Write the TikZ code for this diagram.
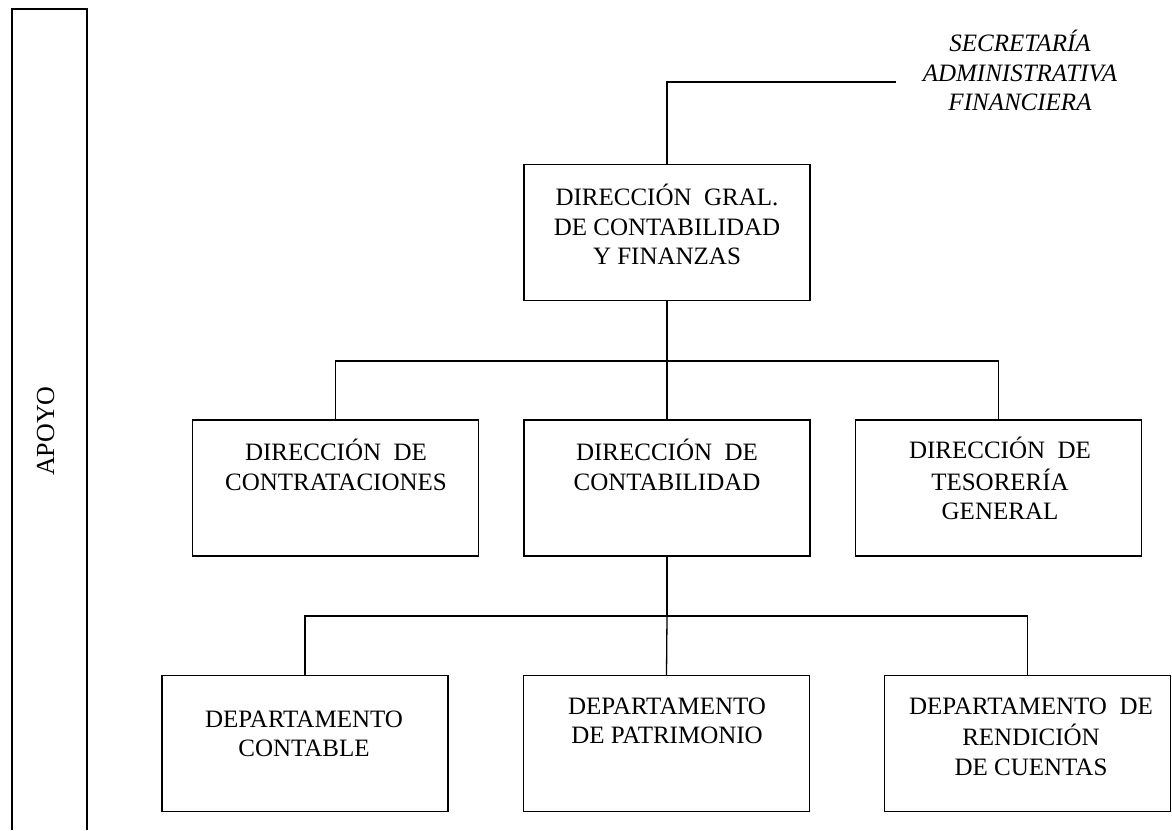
\documentclass[tikz,border=0pt]{standalone}
\usepackage{fontspec}
\setmainfont{Liberation Serif}
\begin{document}
\begin{tikzpicture}[x=1pt,y=-1pt,
  unitbox/.style={draw=black, line width=1.4pt, rectangle, inner sep=0pt,
    minimum width=286pt, minimum height=136pt},
  unittext/.style={align=center, inner sep=0pt, font=\fontsize{25}{29.5}\selectfont},
  link/.style={draw=black, line width=1.3pt}]
\useasboundingbox (0,0) rectangle (1172,830);

% side band
\draw[line width=1.5pt] (12,830) -- (12,9) -- (87,9) -- (87,830);
\node[unittext, font=\fontsize{26}{30}\selectfont, rotate=90] (apoyo) at (48,431) {APOYO\strut};

% boxes
\node[unitbox] (gral) at (667,232.5) {};
\node[unitbox] (dcon) at (335.5,488) {};
\node[unitbox] (dcnt) at (667,488) {};
\node[unitbox] (dtes) at (998.5,488) {};
\node[unitbox] (pcon) at (305,743.5) {};
\node[unitbox] (ppat) at (666.5,743.5) {};
\node[unitbox] (pren) at (1027.5,743.5) {};

% labels
\node[unittext, font=\fontsize{25}{29.5}\selectfont\itshape] (sec) at (1020,75)
  {SECRETARÍA\strut\\ADMINISTRATIVA\strut\\FINANCIERA\strut};
\node[unittext] (tgral) at (667,229) {DIRECCIÓN\ \ GRAL.\strut\\DE CONTABILIDAD\strut\\Y FINANZAS\strut};
\node[unittext] (tdcon) at (336,469) {DIRECCIÓN\ \ DE\strut\\CONTRATACIONES\strut};
\node[unittext] (tdcnt) at (667,469) {DIRECCIÓN\ \ DE\strut\\CONTABILIDAD\strut};
\node[unittext] (tdtes) at (1000,483) {DIRECCIÓN\ \ DE\strut\\TESORERÍA\strut\\GENERAL\strut};
\node[unittext] (tpcon) at (304,736) {DEPARTAMENTO\strut\\CONTABLE\strut};
\node[unittext] (tppat) at (667,723) {DEPARTAMENTO\strut\\DE PATRIMONIO\strut};
\node[unittext] (tpren) at (1031,739) {DEPARTAMENTO\ \ DE\strut\\RENDICIÓN\strut\\DE CUENTAS\strut};

% connectors
\coordinate (secend) at (896,82);
\coordinate (bus1) at (667,361);
\coordinate (bus2) at (667,616);
\draw[link] (gral.north) |- (secend);
\draw[link] (gral.south) -- (bus1);
\draw[link] (dcon.north) |- (bus1) -| (dtes.north);
\draw[link] (bus1) -- (dcnt.north);
\draw[link] (dcnt.south) -- (bus2);
\draw[link] (pcon.north) |- (bus2) -| (pren.north);
\draw[link] (bus2) -- (ppat.north);
\end{tikzpicture}
\end{document}
